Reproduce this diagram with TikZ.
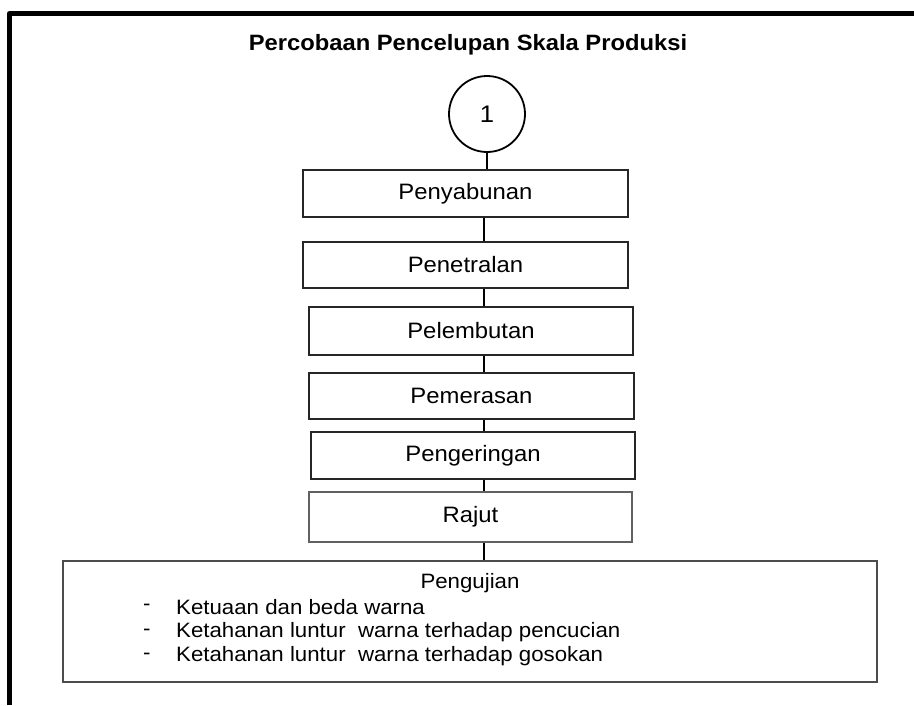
\documentclass[tikz,border=0pt]{standalone}
\usepackage{fontspec}
\setmainfont[FakeStretch=1.07]{Liberation Sans}
\begin{document}
\begin{tikzpicture}[x=1pt, y=-1pt,
  stepbox/.style={draw=black!85, line width=1.3pt, inner sep=0pt,
    minimum width=324pt, minimum height=46pt,
    font=\fontsize{22.3}{26}\selectfont},
  fadedbox/.style={stepbox, draw=black!62},
  link/.style={line width=1.8pt},
  itemtext/.style={anchor=west, inner sep=0pt,
    font=\fontsize{20.8}{24}\selectfont}]

  \useasboundingbox (0,0) rectangle (914,705);

  %% Frame
  \draw[line width=5pt, line join=round]
    (9.5,705) -- (9.5,13.5) -- (914,13.5);

  %% Title
  \node[font=\bfseries\fontsize{22.2}{26}\selectfont] (title) at (468,45)
    {Percobaan Pencelupan Skala Produksi};

  %% Off-page connector
  \node[draw, circle, line width=1.8pt, minimum size=76pt, inner sep=0pt,
    font=\fontsize{24}{28}\selectfont] (start) at (487,114) {1};

  %% Process steps
  \node[stepbox, minimum width=325pt, minimum height=47pt]
    (penyabunan) at (465.5,193.5) {Penyabunan};
  \node[stepbox, minimum width=325pt]
    (penetralan) at (465.5,265) {Penetralan};
  \node[stepbox, minimum height=48pt]
    (pelembutan) at (471,331) {Pelembutan};
  \node[stepbox, minimum width=325pt]
    (pemerasan) at (471.5,396) {Pemerasan};
  \node[stepbox, minimum height=47pt]
    (pengeringan) at (473,455.5) {Pengeringan};
  \node[fadedbox, minimum width=323pt, minimum height=50pt]
    (rajut) at (470.5,517) {Rajut};

  %% Testing box
  \node[draw=black!70, line width=1.3pt, minimum width=814pt,
    minimum height=121pt] (pengujian) at (470,621.5) {};
  \node[font=\fontsize{20.8}{24}\selectfont] (ujihead) at (470,583)
    {Pengujian};
  \node[itemtext] (dash1) at (143,607) {-};
  \node[itemtext] (item1) at (176,607) {Ketuaan dan beda warna};
  \node[itemtext] (dash2) at (143,632) {-};
  \node[itemtext] (item2) at (176,632)
    {Ketahanan luntur \ warna terhadap pencucian};
  \node[itemtext] (dash3) at (143,656) {-};
  \node[itemtext] (item3) at (176,656)
    {Ketahanan luntur \ warna terhadap gosokan};

  %% Links
  \coordinate (spine) at (484,0);
  \draw[link] (start.south) -- (penyabunan.north -| start.south);
  \draw[link] (penyabunan.south -| spine) -- (penetralan.north -| spine);
  \draw[link] (penetralan.south -| spine) -- (pelembutan.north -| spine);
  \draw[link] (pelembutan.south -| spine) -- (pemerasan.north -| spine);
  \draw[link] (pemerasan.south -| spine) -- (pengeringan.north -| spine);
  \draw[link] (pengeringan.south -| spine) -- (rajut.north -| spine);
  \draw[link] (rajut.south -| spine) -- (pengujian.north -| spine);

\end{tikzpicture}
\end{document}
